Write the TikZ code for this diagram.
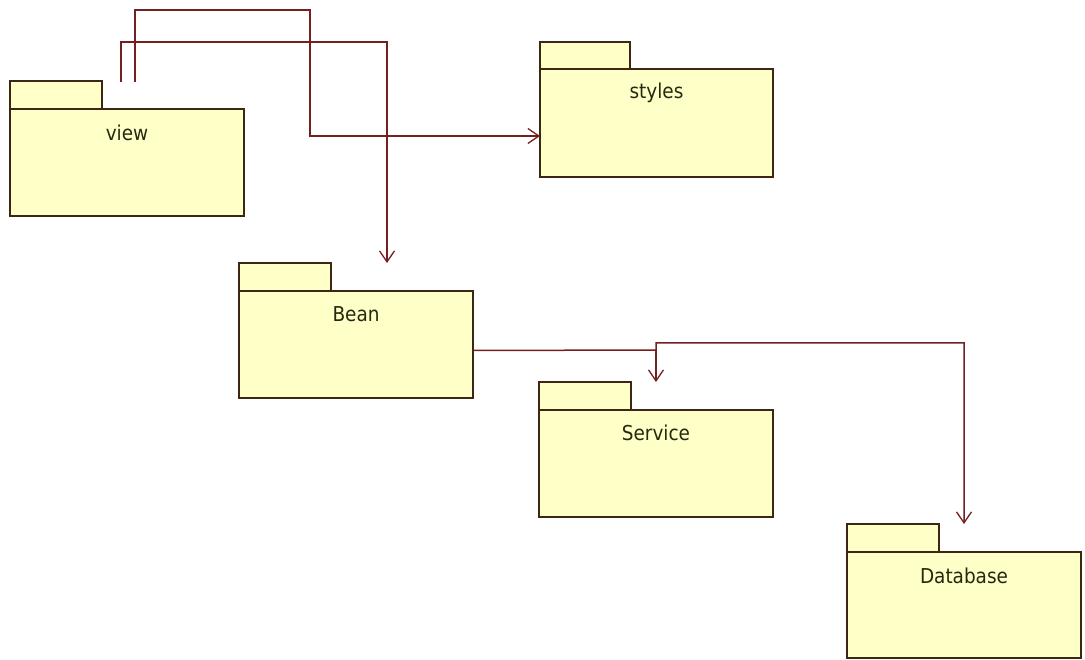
\documentclass[tikz,border=0pt]{standalone}
\usepackage{fontspec}
\setmainfont{DejaVu Sans Condensed}
\usetikzlibrary{arrows.meta,calc}

\definecolor{pkgfill}{RGB}{255,255,200}
\definecolor{pkgline}{RGB}{62,38,20}
\definecolor{depline}{RGB}{116,32,32}
\definecolor{pkgtext}{RGB}{40,40,16}

\tikzset{
  pkgbody/.style={draw=pkgline, fill=pkgfill, line width=1.5pt, rectangle,
    inner sep=0pt, outer sep=0pt, anchor=north west},
  pkgtab/.style={draw=pkgline, fill=pkgfill, line width=1.5pt, rectangle,
    inner sep=0pt, outer sep=0pt, anchor=south west,
    minimum width=92, minimum height=28},
  pkgname/.style={text=pkgtext, font=\fontsize{20.5}{24}\selectfont, anchor=center},
  dep/.style={draw=depline, line width=1.5pt,
    -{Straight Barb[length=11pt,width=15pt,line width=1.3pt]}}
}

\begin{document}
\begin{tikzpicture}[x=1pt,y=-1pt]
  \useasboundingbox[fill=white] (0,0) rectangle (1085,660);

  % packages: body, tab and name
  \node[pkgbody, minimum width=234, minimum height=107] (view) at (10,109) {};
  \node[pkgtab] (view-tab) at (view.north west) {};
  \node[pkgname] (view-name) at ($(view.north)+(0,24)$) {view};

  \node[pkgbody, minimum width=233, minimum height=108] (styles) at (540,69) {};
  \node[pkgtab, minimum width=90, minimum height=27] (styles-tab) at (styles.north west) {};
  \node[pkgname] (styles-name) at ($(styles.north)+(0,24)$) {styles};

  \node[pkgbody, minimum width=234, minimum height=107] (Bean) at (239,291) {};
  \node[pkgtab] (Bean-tab) at (Bean.north west) {};
  \node[pkgname] (Bean-name) at ($(Bean.north)+(0,23)$) {Bean};

  \node[pkgbody, minimum width=234, minimum height=107] (Service) at (539,410) {};
  \node[pkgtab] (Service-tab) at (Service.north west) {};
  \node[pkgname] (Service-name) at ($(Service.north)+(0,23)$) {Service};

  \node[pkgbody, minimum width=234, minimum height=106] (Database) at (847,552) {};
  \node[pkgtab] (Database-tab) at (Database.north west) {};
  \node[pkgname] (Database-name) at ($(Database.north)+(0,24)$) {Database};

  % free ends of the dependencies
  \coordinate (view-out1) at (135,82);
  \coordinate (view-out2) at (121,82);
  \coordinate (bean-in) at (387,263);

  % view -> styles
  \draw[dep] (view-out1) |- (310,10) |- ([yshift=-13pt]styles.west);
  % view -> Bean
  \draw[dep] (view-out2) |- (387,42) -- (bean-in);
  % Bean -> Service
  \draw[dep] ([yshift=-6pt]Bean.east) -| (Service.north |- Service-tab.north);
  % Bean -> Database
  \draw[dep] ([yshift=-6pt]Bean.east) -- (656,350) -- (656,343)
             -| (Database.north |- Database-tab.north);
\end{tikzpicture}
\end{document}
